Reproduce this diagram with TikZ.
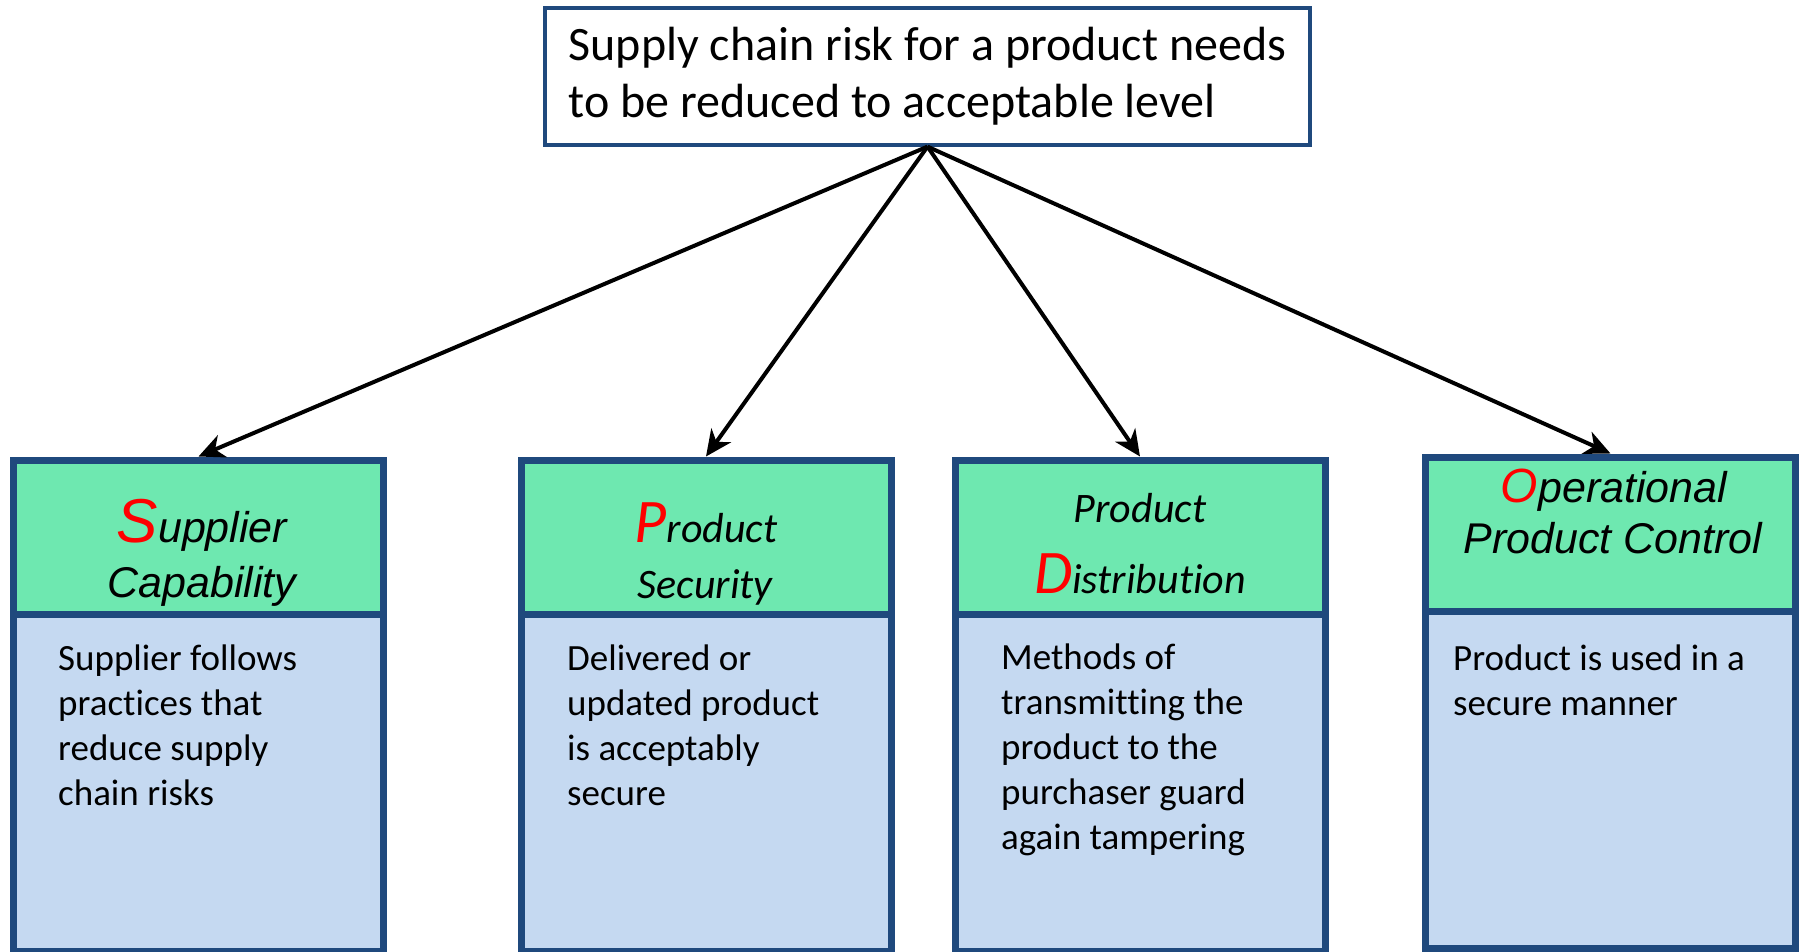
\documentclass[tikz,border=0pt]{standalone}
\usepackage{fontspec}
\setmainfont[RawFeature={-liga;-clig;-calt;-dlig}]{Carlito}
\newfontfamily\arialfont{Liberation Sans}
\usetikzlibrary{arrows.meta}
\definecolor{bordc}{RGB}{31,73,125}
\definecolor{hdrc}{RGB}{110,232,176}
\definecolor{bodyc}{RGB}{197,217,241}
\definecolor{redc}{RGB}{255,0,0}
\newcommand{\redinit}[2]{{\fontsize{#1}{#1}\selectfont\color{redc}#2}}
\begin{document}
\begin{tikzpicture}[x=1pt,y=-1pt,
  hdrbox/.style={draw=bordc, fill=hdrc, line width=7pt, minimum width=370pt, minimum height=154.5pt, inner sep=0pt, anchor=north},
  bodybox/.style={draw=bordc, fill=bodyc, line width=7pt, minimum width=370pt, minimum height=337pt, inner sep=0pt, anchor=north},
  topbox/.style={draw=bordc, fill=white, line width=3.3pt, minimum width=765pt, minimum height=137pt, inner sep=0pt, align=left, font=\fontsize{48}{57}\selectfont},
  hcal/.style={anchor=base, inner sep=0pt, font=\itshape\fontsize{42}{42}\selectfont},
  hari/.style={anchor=base, inner sep=0pt, font=\arialfont\itshape\fontsize{43}{43}\selectfont},
  bodytxt/.style={anchor=base west, inner sep=0pt, align=left, font=\fontsize{37}{45}\selectfont},
  arr/.style={-{Stealth[length=26pt,width=24pt,inset=8pt]}, line width=4pt, black}
]
\useasboundingbox (0,0) rectangle (1800,952);
\node[topbox] (top) at (927.5,76.5) {Supply chain risk for a product needs\\to be reduced to acceptable level};

\node[bodybox] (b1) at (198.5,611) {};
\node[hdrbox] (h1) at (198.5,456.5) {};
\node[bodybox] (b2) at (706,611) {};
\node[hdrbox] (h2) at (706,456.5) {};
\node[bodybox] (b3) at (1140,611) {};
\node[hdrbox] (h3) at (1140,456.5) {};
\node[bodybox] (b4) at (1610.5,608) {};
\node[hdrbox] (h4) at (1610.5,453.5) {};

\node[hari] (t1a) at (202,542) {\redinit{62}{S}upplier};
\node[hari] (t1b) at (202,597) {Capability};
\node[hcal] (t2a) at (706,542) {\redinit{62}{P}roduct};
\node[hcal] (t2b) at (705,598) {Security};
\node[hcal] (t3a) at (1140,522) {Product};
\node[hcal] (t3b) at (1140,593) {\redinit{62}{D}istribution};
\node[hari] (t4a) at (1614,502) {\redinit{48}{O}perational};
\node[hari] (t4b) at (1613,553) {Product Control};

% anchor is the baseline of the last line
\node[bodytxt] (d1) at (58,805) {Supplier follows\\practices that\\reduce supply\\chain risks};
\node[bodytxt] (d2) at (567,805) {Delivered or\\updated product\\is acceptably\\secure};
\node[bodytxt] (d3) at (1001,849) {Methods of\\transmitting the\\product to the\\purchaser guard\\again tampering};
\node[bodytxt] (d4) at (1453,715) {Product is used in a\\secure manner};

\draw[arr] (top.south) -- (h1.north);
\draw[arr] (top.south) -- (h2.north);
\draw[arr] (top.south) -- (h3.north);
\draw[arr] (top.south) -- (h4.north);
\end{tikzpicture}
\end{document}
